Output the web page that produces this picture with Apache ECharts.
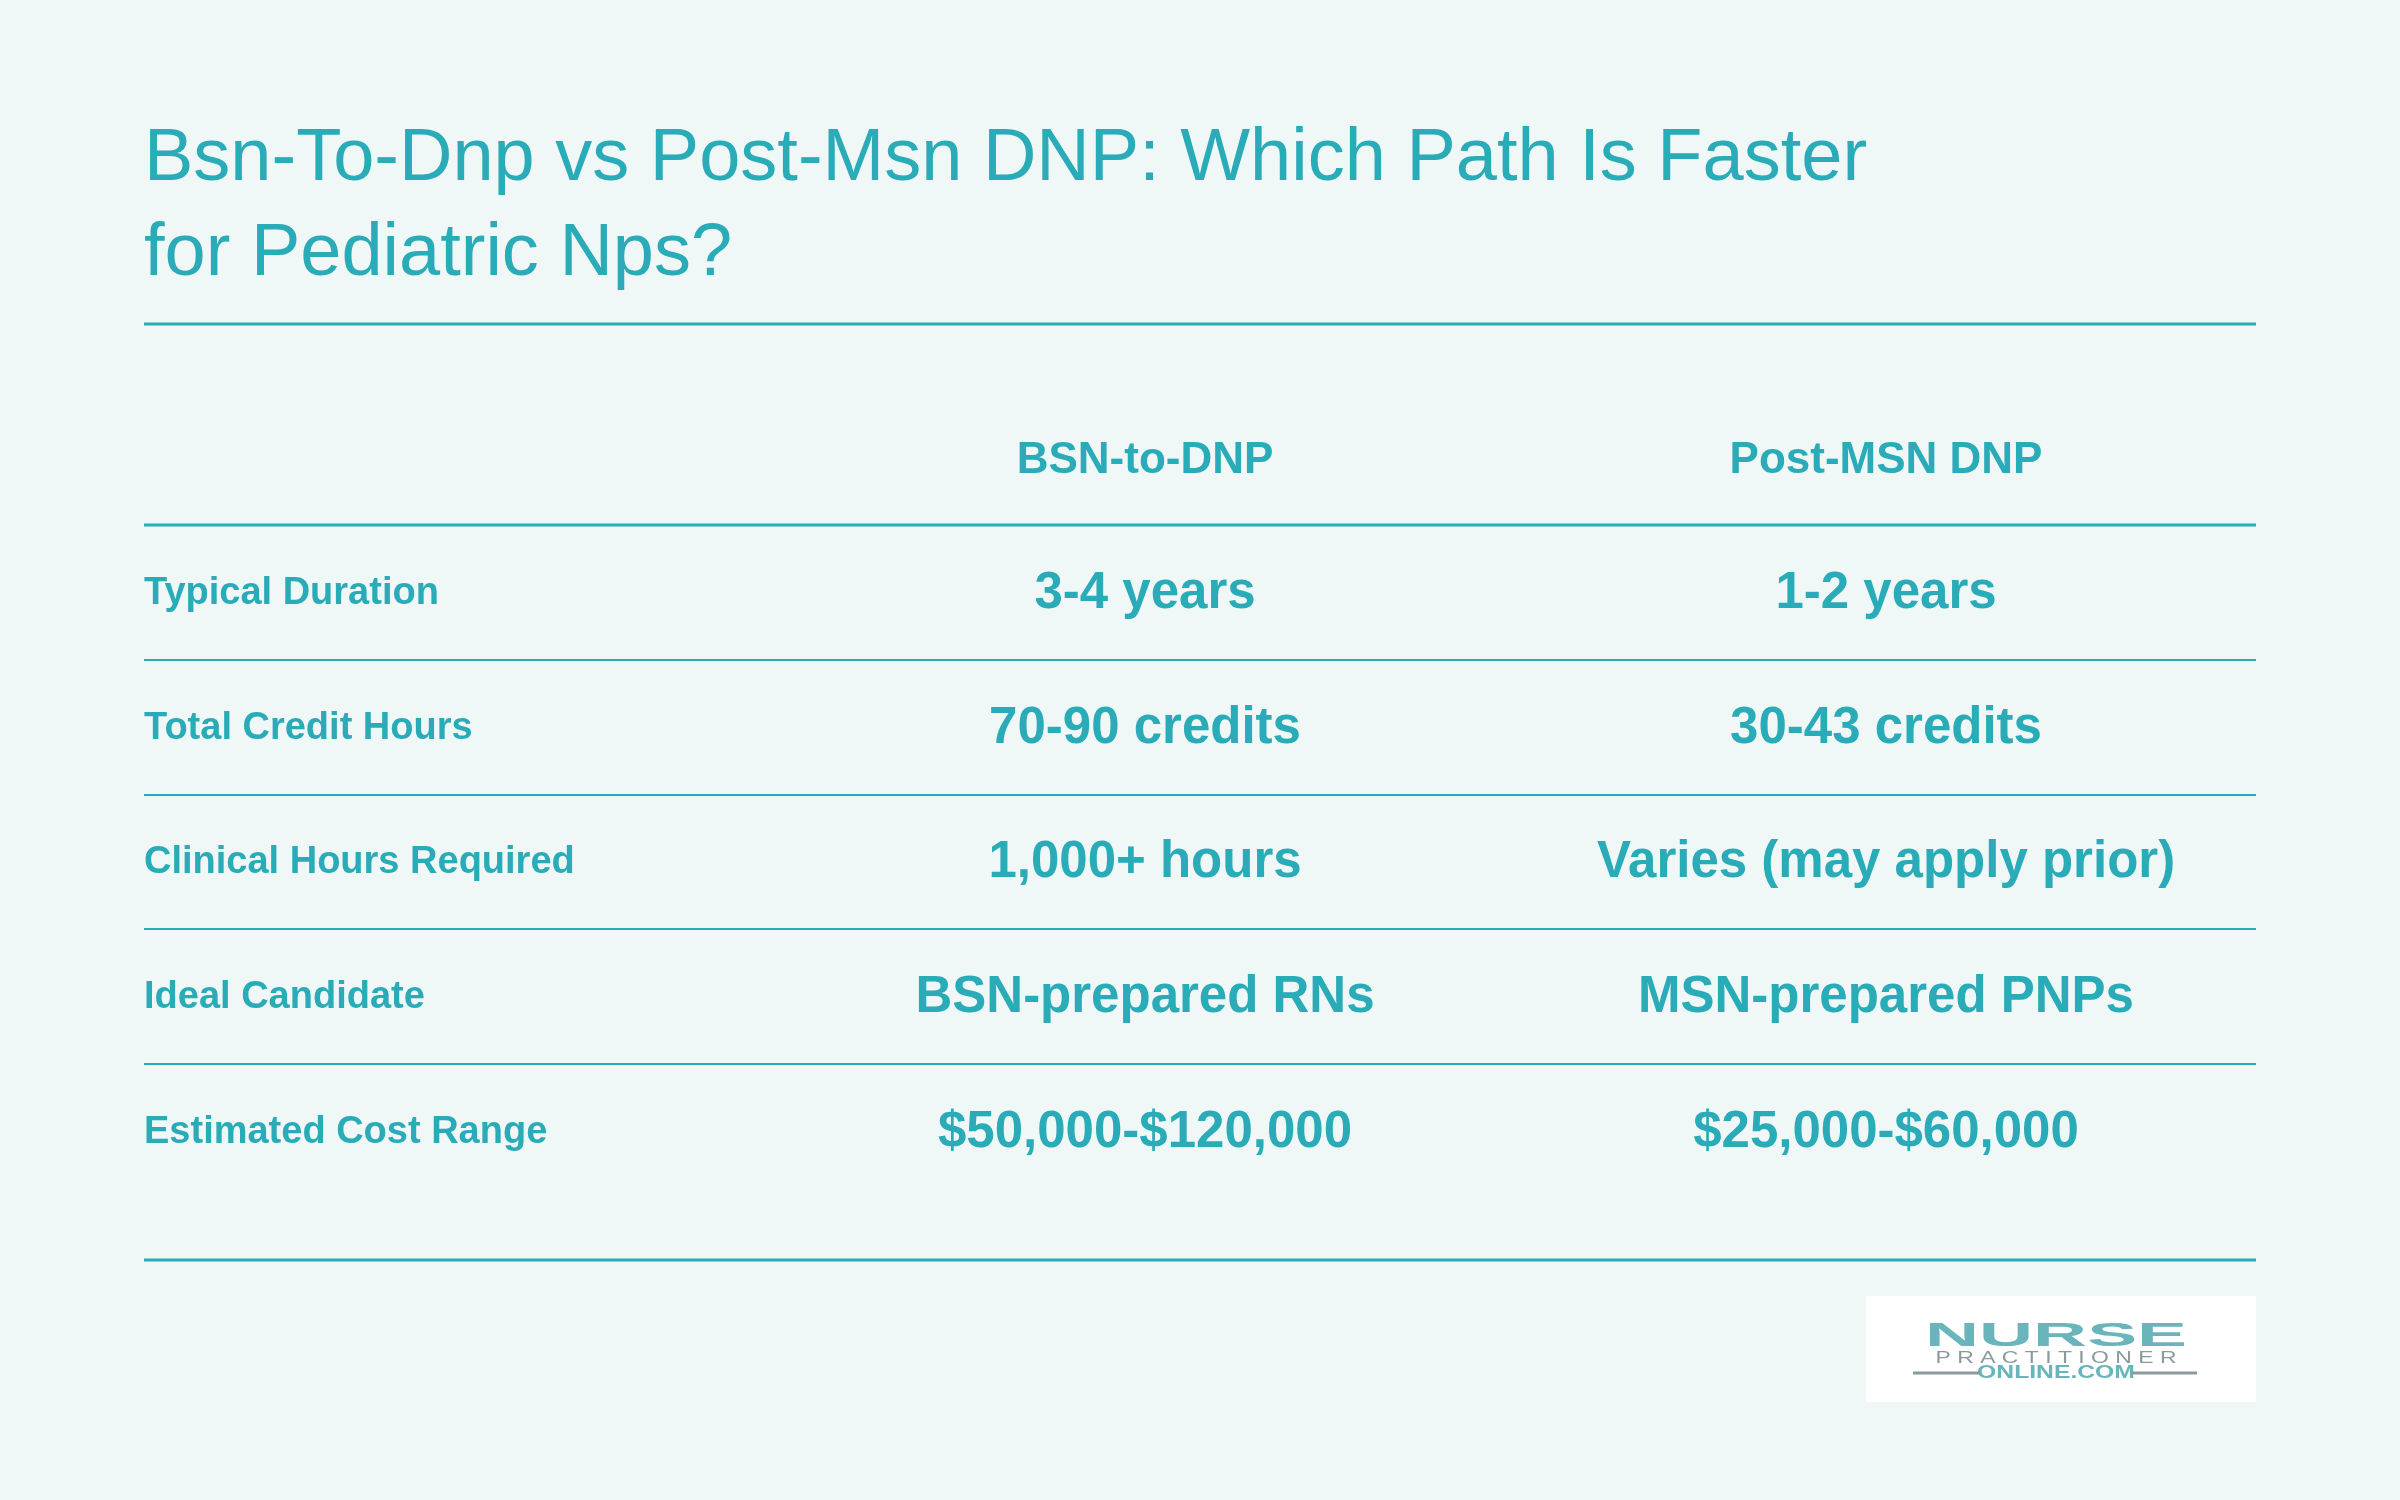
<!DOCTYPE html>
<html>
<head>
<meta charset="utf-8">
<script src="https://cdn.jsdelivr.net/npm/echarts@6/dist/echarts.min.js"></script>
<style>
html, body { margin: 0; padding: 0; background: #eff7f7; }
#chart { width: 2400px; height: 1500px; }
</style>
</head>
<body>
<div id="chart"></div>
<script>
const titleLines = ['Bsn-To-Dnp vs Post-Msn DNP: Which Path Is Faster', 'for Pediatric Nps?'];
const columns = ['BSN-to-DNP', 'Post-MSN DNP'];
const rowLabels = ['Typical Duration', 'Total Credit Hours', 'Clinical Hours Required', 'Ideal Candidate', 'Estimated Cost Range'];
const bsnValues = ['3-4 years', '70-90 credits', '1,000+ hours', 'BSN-prepared RNs', '$50,000-$120,000'];
const msnValues = ['1-2 years', '30-43 credits', 'Varies (may apply prior)', 'MSN-prepared PNPs', '$25,000-$60,000'];

const teal = '#2aabb8';
const font = 'Liberation Sans';
const left = 144, right = 2256;
const colX = [1145, 1886];
const rowY = [594, 729, 863, 998, 1133];

const elements = [];
function line (y, w, x1, x2, color) {
    elements.push({ type: 'line', shape: { x1: x1 || left, y1: y, x2: x2 || right, y2: y }, style: { stroke: color || teal, lineWidth: w } });
}
function text (x, y, s, size, weight, align, color, sx) {
    elements.push({ type: 'text', x: x, y: y, scaleX: sx || 1, style: { text: s, fill: color || teal, font: weight + ' ' + size + 'px "' + font + '"', textAlign: align, textVerticalAlign: 'middle' } });
}

// 标题
titleLines.forEach((t, i) => text(left, 160 + i * 95, t, 74, 'normal', 'left'));
line(324, 3);
// 表头
columns.forEach((c, i) => text(colX[i], 461, c, 44, 'bold', 'center'));
line(525, 3);
// 行
rowLabels.forEach((r, i) => {
    text(left, rowY[i], r, 38, 'bold', 'left');
    text(colX[0], rowY[i], bsnValues[i], 51, 'bold', 'center');
    text(colX[1], rowY[i], msnValues[i], 51, 'bold', 'center');
    if (i < rowLabels.length - 1) line(rowY[i] + 66, 2);
});
line(1260, 3);

// logo
elements.push({ type: 'rect', shape: { x: 1866, y: 1296, width: 390, height: 106 }, style: { fill: '#ffffff' } });
text(2056, 1337, 'NURSE', 34, 'bold', 'center', '#6ab4bb', 2.2);
text(2056, 1358, 'P R A C T I T I O N E R', 17, 'normal', 'center', '#8a9a9c', 1.35);
text(2056, 1373, 'ONLINE.COM', 19, 'bold', 'center', '#6ab4bb', 1.3);
line(1373, 3, 1913, 1980, '#8a9a9c');
line(1373, 3, 2132, 2197, '#8a9a9c');

const chart = echarts.init(document.getElementById('chart'));
chart.setOption({
    backgroundColor: '#eff7f7',
    animation: false,
    graphic: { elements: elements }
});
</script>
</body>
</html>
